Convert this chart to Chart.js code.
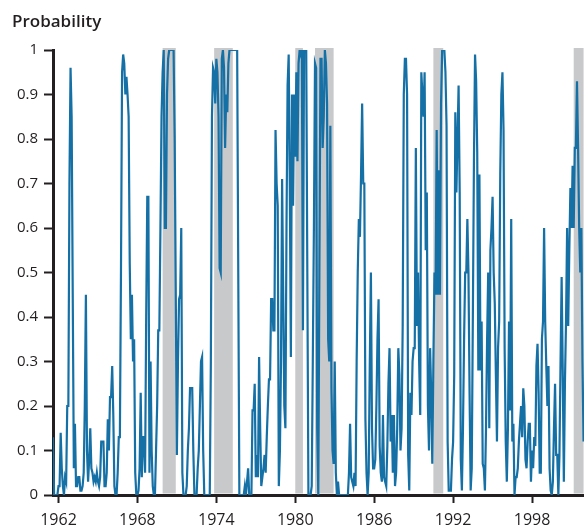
<!DOCTYPE html>
<html><head><meta charset="utf-8">
<script src="https://cdn.jsdelivr.net/npm/chart.js@4.4.0/dist/chart.umd.min.js"></script>
<style>html,body{margin:0;padding:0;background:#fff}#wrap{width:584px;height:527px;position:relative}</style>
</head><body><div id="wrap"><canvas id="c" width="584" height="527"></canvas></div>
<script>
// Monthly probabilities, first value = Aug 1961
const startYear = 1961, startMonth = 8;
const prob1960s = [
0.13,0,0,0,0,0.02,0.02,0.14,0.06,0.02,
0,0.04,0.03,0.2,0.2,0.7,0.96,0.85,0.45,0.06,
0.16,0.02,0.02,0.04,0.04,0.01,0.01,0.02,0.05,0.2,
0.45,0.1,0.03,0.08,0.15,0.06,0.05,0.03,0.04,0.03,
0.05,0.03,0.02,0.04,0.12,0.12,0.12,0.02,0.02,0.05,
0.17,0.1,0.22,0.22,0.29,0.18,0.02,0,0,0.05,
0.13,0.13,0.5,0.95,0.99,0.97,0.9,0.94,0.9,0.85,
0.52,0.35,0.45,0.3,0.35,0.05,0,0,0.01,0.06,
0.23,0.04,0.13,0.13,0.05,0.4,0.67,0.67,0.05,0.3,
0.1,0.02,0,0,0.1,0.2,0.37,0.37,0.6,0.85,
0.95];
const prob1970s = [
1.0,0.6,0.6,0.9,0.98,1,1,1,1,
1,0.8,0.45,0.09,0.3,0.44,0.45,0.6,0.05,0,
0,0,0.02,0.1,0.15,0.24,0.24,0.24,0.1,0,
0,0,0.06,0.1,0.2,0.3,0.31,0.1,0,0,
0,0,0,0,0.3,0.85,0.96,0.95,0.88,0.98,
0.95,0.85,0.51,0.5,0.98,1,0.96,0.78,0.9,0.86,
0.97,1,1,1,1,1,1,1,1,0.5,
0,0,0,0,0,0.02,0,0.03,0.06,0,
0,0,0.19,0.19,0.25,0.04,0.09,0.04,0.31,0.15,
0.02,0.04,0.06,0.09,0.05,0.13,0.2,0.26,0.26,0.44,
0.44,0.37,0.37,0.82,0.7,0.65,0.02,0.1,0.3,0.71,
0.45,0.2,0.15,0.6,0.92,0.99,0.7,0.31,0.9,0.65,
0.9];
const prob1980s = [
0.76,0.95,0.75,0.97,1,0.99,1,0.37,1,
1,1,0.5,0,0,0,0.02,0.3,0.6,0.97,
0.96,0.15,0,0.5,0.98,0.98,0.78,0.85,1,0.97,
0.88,0.35,0.3,0.83,0.24,0.1,0.07,0.3,0.05,0,
0.03,0,0,0,0,0,0,0,0,0,
0.05,0.16,0.04,0.03,0.02,0.05,0.02,0.3,0.5,0.62,
0.58,0.72,0.88,0.7,0.7,0.17,0.05,0,0.05,0.3,
0.5,0.15,0.06,0.06,0.08,0.2,0.35,0.44,0.11,0.05,
0.03,0.18,0.04,0.03,0.02,0.11,0.25,0.33,0.12,0.18,
0.05,0.18,0.02,0.05,0.15,0.33,0.27,0.1,0.15,0.38,
0.9,0.98,0.98,0.9,0.09,0.01,0.23,0.18,0.3,0.33,
0.33,0.78,0.38,0.5,0.3,0.18,0.95,0.9,0.85,0.95,
0.55];
const prob1990s = [
0.68,0.2,0.1,0.33,0.23,0.07,0.3,0.5,0.45,
0.82,0.45,0.73,0.45,0.88,1,1,1,0.95,0.83,
0.12,0.01,0.01,0.01,0.08,0.12,0.27,0.86,0.68,0.8,
0.92,0.68,0.08,0.01,0.15,0.35,0.5,0.5,0.62,0.5,
0.23,0.01,0.06,0.4,0.75,0.99,0.93,0.77,0.28,0.72,
0.28,0.39,0.07,0.06,0.01,0.15,0.35,0.5,0.15,0.55,
0.6,0.67,0.5,0.43,0.27,0.12,0.33,0.39,0.72,0.9,
0.95,0.82,0.33,0.12,0.03,0.15,0.39,0.19,0.62,0.12,
0.16,0,0.04,0.04,0.06,0.12,0.16,0.2,0.13,0.24,
0.2,0.08,0.06,0.12,0.16,0.16,0.03,0.1,0.06,0.13,
0.11,0.29,0.34,0.23,0.05,0.05,0.35,0.39,0.6,0.39,
0.29,0.2,0.29,0.06,0.01,0,0.03,0.15,0.25,0.09,
0.09];
const prob2000s = [
0,0.09,0.3,0.49,0.28,0.03,0.25,0.39,0.6,
0.38,0.55,0.69,0.6,0.74,0.6,0.78,0.78,0.93,0.78,
0.6,0.5,0.6,0.3,0.12];

const xTickYears = [1962,1968,1974,1980,1986,1992,1998];
const yTickValues = [0,0.1,0.2,0.3,0.4,0.5,0.6,0.7,0.8,0.9,1];
const yTickLabels = ['0','0.1','0.2','0.3','0.4','0.5','0.6','0.7','0.8','0.9','1'];
// Recessions: peak month and trough month [year, month]
const recessionPeaks   = [[1969,12],[1973,11],[1980,1],[1981,7],[1990,7],[2001,3]];
const recessionTroughs = [[1970,11],[1975,3],[1980,7],[1982,11],[1991,3],[2001,11]];
const titleText = 'Probability';

const allProb = [].concat(prob1960s, prob1970s, prob1980s, prob1990s, prob2000s);
const points = allProb.map((v, i) => ({x: startYear + (startMonth - 1 + i) / 12, y: v}));
const ym = (a) => a[0] + (a[1] - 1) / 12;
const bands = recessionPeaks.map((p, i) => [ym(p), ym(recessionTroughs[i]) + 1 / 12]);

const TEXT = '#231f20';
const FONT = "'Open Sans', 'DejaVu Sans', sans-serif";

const bandPlugin = {
  id: 'bands',
  beforeDatasetsDraw(chart) {
    const {ctx, chartArea, scales} = chart;
    ctx.save();
    ctx.fillStyle = '#c8c9cb';
    bands.forEach(([a, b]) => {
      const x1 = Math.max(scales.x.getPixelForValue(a), chartArea.left);
      const x2 = Math.min(scales.x.getPixelForValue(b), chartArea.right);
      ctx.fillRect(x1, chartArea.top - 2, x2 - x1, chartArea.bottom - chartArea.top + 0.5);
    });
    ctx.restore();
  }
};
const titlePlugin = {
  id: 'ttl',
  afterDraw(chart) {
    const ctx = chart.ctx;
    ctx.save();
    ctx.fillStyle = TEXT;
    ctx.font = "600 17px " + FONT;
    ctx.textBaseline = 'alphabetic';
    ctx.textAlign = 'left';
    ctx.fillText(titleText, 12, 27);
    ctx.restore();
  }
};

new Chart(document.getElementById('c'), {
  type: 'line',
  data: { datasets: [{
    data: points,
    borderColor: '#1570a6',
    borderWidth: 2.2,
    pointRadius: 0,
    tension: 0,
    fill: false
  }]},
  options: {
    responsive: false,
    animation: false,
    devicePixelRatio: 1,
    layout: { padding: { top: 50, left: 0, right: 0, bottom: 0 } },
    plugins: { legend: { display: false }, tooltip: { enabled: false }, title: { display: false } },
    scales: {
      x: {
        type: 'linear',
        min: 1961.583,
        max: 2001.95,
        afterFit(s) { s.height = 32; },
        afterBuildTicks(s) { s.ticks = xTickYears.map(v => ({value: v})); },
        grid: { drawOnChartArea: false, drawTicks: true, tickLength: 8, tickWidth: 2, tickColor: TEXT, color: TEXT },
        border: { display: true, color: TEXT, width: 3 },
        ticks: { color: TEXT, font: { family: FONT, size: 16, weight: 500 }, padding: 8, maxRotation: 0, autoSkip: false,
                 callback: (v) => String(v) }
      },
      y: {
        min: 0,
        max: 1,
        afterFit(s) { s.width = 53; },
        afterBuildTicks(s) { s.ticks = yTickValues.map(v => ({value: v})); },
        grid: { drawOnChartArea: false, drawTicks: true, tickLength: 9, tickWidth: 2, tickColor: TEXT, color: TEXT },
        border: { display: true, color: TEXT, width: 3 },
        ticks: { color: TEXT, font: { family: FONT, size: 15, weight: 500 }, padding: 6, autoSkip: false,
                 callback: (v, i) => yTickLabels[i] }
      }
    }
  },
  plugins: [bandPlugin, titlePlugin]
});
</script></body></html>
